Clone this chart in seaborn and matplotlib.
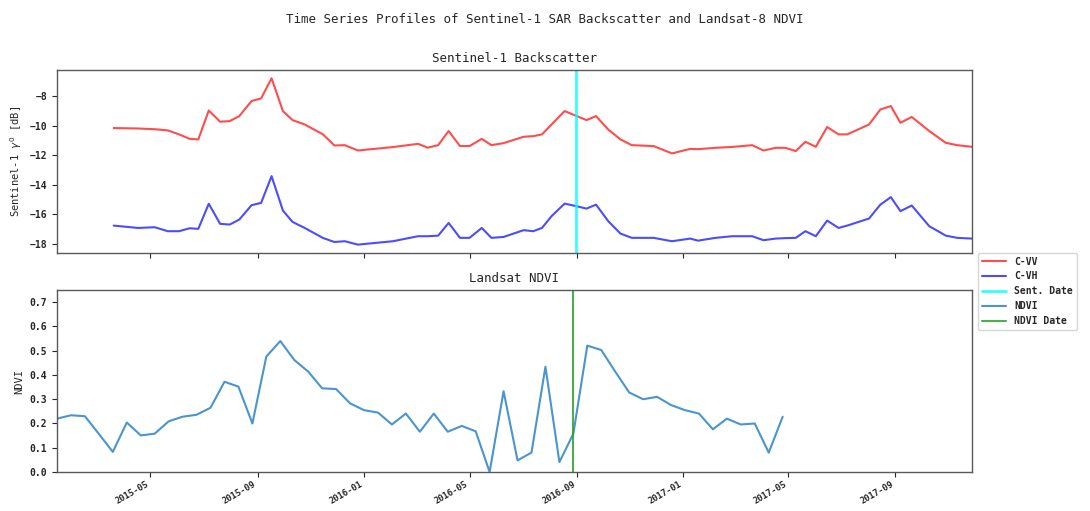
import numpy as np
import pandas as pd
import matplotlib
matplotlib.use("Agg")
import matplotlib.pyplot as plt
import matplotlib.dates as mdates
import seaborn as sns

# ------------------------------------------------------------------
# Data
# ------------------------------------------------------------------
s1_dates = pd.to_datetime([
    "2015-03-20", "2015-04-17", "2015-05-06", "2015-05-21", "2015-06-03",
    "2015-06-15", "2015-06-25", "2015-07-07", "2015-07-20", "2015-07-31",
    "2015-08-11", "2015-08-25", "2015-09-05", "2015-09-17", "2015-09-30",
    "2015-10-11", "2015-10-25", "2015-11-15", "2015-11-28", "2015-12-10",
    "2015-12-25", "2016-02-03", "2016-03-03", "2016-03-14", "2016-03-26",
    "2016-04-07", "2016-04-20", "2016-05-01", "2016-05-15", "2016-05-26",
    "2016-06-09", "2016-07-02", "2016-07-13", "2016-07-23", "2016-08-03",
    "2016-08-18", "2016-09-01", "2016-09-12", "2016-09-23", "2016-10-07",
    "2016-10-21", "2016-11-03", "2016-11-28", "2016-12-19", "2017-01-09",
    "2017-01-18", "2017-02-07", "2017-02-26", "2017-03-21", "2017-04-03",
    "2017-04-17", "2017-04-28", "2017-05-10", "2017-05-21", "2017-06-02",
    "2017-06-15", "2017-06-28", "2017-07-08", "2017-08-02", "2017-08-15",
    "2017-08-27", "2017-09-07", "2017-09-20", "2017-10-10", "2017-10-29",
    "2017-11-11", "2017-11-28",
])
c_vv = [
    -10.17, -10.20, -10.25, -10.33, -10.60, -10.90, -10.94, -8.98, -9.74, -9.70,
    -9.36, -8.34, -8.16, -6.80, -9.02, -9.63, -9.93, -10.60, -11.35, -11.33,
    -11.69, -11.46, -11.24, -11.50, -11.33, -10.37, -11.39, -11.39, -10.90, -11.33,
    -11.19, -10.76, -10.72, -10.60, -9.93, -9.02, -9.36, -9.63, -9.36, -10.27,
    -10.94, -11.33, -11.39, -11.89, -11.58, -11.60, -11.51, -11.45, -11.33, -11.69,
    -11.51, -11.51, -11.73, -11.10, -11.44, -10.10, -10.60, -10.60, -9.93, -8.91,
    -8.68, -9.81, -9.42, -10.37, -11.17, -11.33, -11.44,
]
c_vh = [
    -16.78, -16.94, -16.89, -17.16, -17.16, -16.96, -17.00, -15.30, -16.66, -16.71,
    -16.37, -15.40, -15.24, -13.43, -15.76, -16.53, -16.94, -17.62, -17.89, -17.84,
    -18.07, -17.84, -17.50, -17.50, -17.46, -16.60, -17.61, -17.61, -16.94, -17.61,
    -17.55, -17.09, -17.16, -16.94, -16.14, -15.29, -15.47, -15.63, -15.36, -16.48,
    -17.32, -17.61, -17.61, -17.84, -17.66, -17.80, -17.61, -17.50, -17.50, -17.77,
    -17.66, -17.63, -17.61, -17.16, -17.50, -16.44, -16.94, -16.78, -16.30, -15.36,
    -14.85, -15.80, -15.42, -16.82, -17.46, -17.61, -17.66,
]

# Landsat-8 acquisitions, 16-day revisit
ndvi_start = "2015-01-14"
ndvi = [
    0.220, 0.234, 0.230, 0.157, 0.083, 0.204, 0.151, 0.158, 0.209, 0.228,
    0.236, 0.265, 0.372, 0.352, 0.200, 0.476, 0.540, 0.462, 0.414, 0.345,
    0.342, 0.283, 0.255, 0.245, 0.196, 0.241, 0.166, 0.241, 0.166, 0.190,
    0.168, 0.000, 0.333, 0.048, 0.080, 0.434, 0.041, 0.158, 0.521, 0.503,
    0.414, 0.328, 0.300, 0.310, 0.276, 0.255, 0.241, 0.176, 0.220, 0.196,
    0.200, 0.080, 0.228,
]
ndvi_dates = pd.date_range(ndvi_start, periods=len(ndvi), freq="16D")

sent_date = pd.Timestamp("2016-08-31")
ndvi_date = pd.Timestamp("2016-08-28")

# ------------------------------------------------------------------
# Plot
# ------------------------------------------------------------------
sns.set_style("ticks")
plt.rcParams["font.family"] = ["DejaVu Sans Mono", "DejaVu Sans"]
plt.rcParams["mathtext.fontset"] = "dejavusans"

fig, (ax1, ax2) = plt.subplots(2, 1, figsize=(10.9, 5.11), dpi=100, sharex=True)
ax1.set_position([0.0523, 0.505, 0.8394, 0.358])
ax2.set_position([0.0523, 0.0763, 0.8394, 0.356])

sns.lineplot(x=s1_dates, y=c_vv, ax=ax1, color="red", alpha=0.7, linewidth=1.5,
             label="C-VV", legend=False)
sns.lineplot(x=s1_dates, y=c_vh, ax=ax1, color="blue", alpha=0.7, linewidth=1.5,
             label="C-VH", legend=False)
ax1.axvline(sent_date, color="cyan", alpha=0.8, linewidth=2, label="Sent. Date")
ax1.set_title("Sentinel-1 Backscatter", fontsize=9)
ax1.set_ylabel(r"Sentinel-1 $\gamma^0$ [dB]", fontsize=7.5)
ax1.set_xlabel("")

sns.lineplot(x=ndvi_dates, y=ndvi, ax=ax2, color="#4a95d0", linewidth=1.5,
             label="NDVI", legend=False)
ax2.axvline(ndvi_date, color="#2ca02c", alpha=0.85, linewidth=1.5, label="NDVI Date")
ax2.set_title("Landsat NDVI", fontsize=9)
ax2.set_ylabel("NDVI", fontsize=7.5)
ax2.set_xlabel("")
ax2.set_ylim(0, 0.75)

ax2.set_xlim(ndvi_dates[0], s1_dates[-1])
ax2.xaxis.set_major_locator(mdates.MonthLocator(bymonth=[1, 5, 9]))
ax2.xaxis.set_major_formatter(mdates.DateFormatter("%Y-%m"))

for ax in (ax1, ax2):
    ax.tick_params(axis="y", labelsize=7)
    ax.tick_params(axis="x", labelsize=6.3, pad=2)
    for lab in ax.get_yticklabels() + ax.get_xticklabels():
        lab.set_fontweight("bold")
    for sp in ax.spines.values():
        sp.set_color("0.35")
        sp.set_linewidth(1.0)

for lab in ax2.get_xticklabels():
    lab.set_rotation(30)
    lab.set_ha("right")
ax1.tick_params(labelbottom=False)

fig.suptitle("Time Series Profiles of Sentinel-1 SAR Backscatter and Landsat-8 NDVI",
             fontsize=9, y=0.975)

h1, l1 = ax1.get_legend_handles_labels()
h2, l2 = ax2.get_legend_handles_labels()
fig.legend(h1 + h2, l1 + l2, loc="upper left", bbox_to_anchor=(0.893, 0.515),
           prop={"size": 7, "weight": "bold"}, handlelength=2.5)

fig.savefig("out.png", dpi=100)
